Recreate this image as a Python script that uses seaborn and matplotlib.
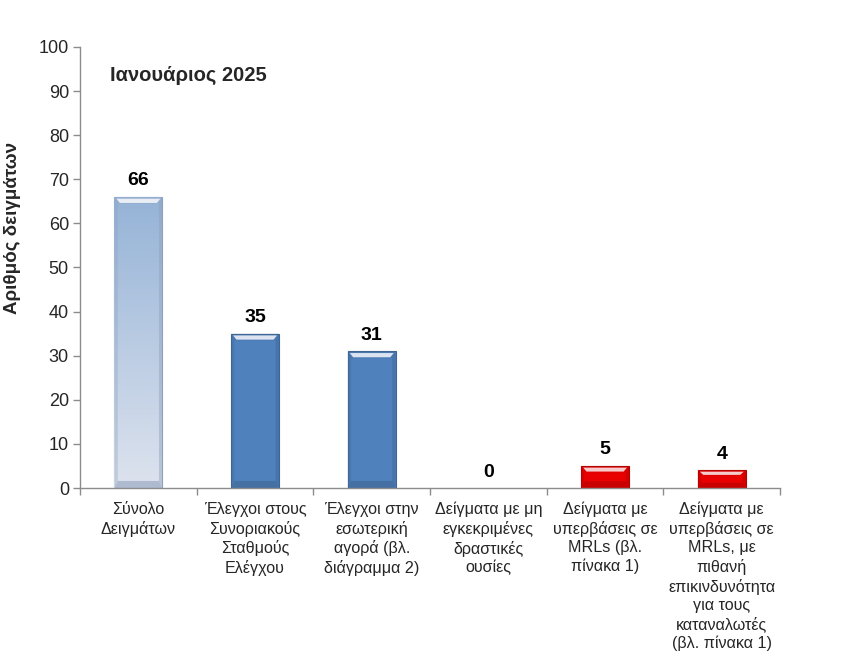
import matplotlib
matplotlib.use("Agg")
import matplotlib.pyplot as plt
import matplotlib.colors as mcolors
from matplotlib.patches import Polygon
import numpy as np
import pandas as pd
import seaborn as sns

categories = [
    "Σύνολο\nΔειγμάτων",
    "Έλεγχοι στους\nΣυνοριακούς\nΣταθμούς\nΕλέγχου",
    "Έλεγχοι στην\nεσωτερική\nαγορά (βλ.\nδιάγραμμα 2)",
    "Δείγματα με μη\nεγκεκριμένες\nδραστικές\nουσίες",
    "Δείγματα με\nυπερβάσεις σε\nMRLs (βλ.\nπίνακα 1)",
    "Δείγματα με\nυπερβάσεις σε\nMRLs, με\nπιθανή\nεπικινδυνότητα\nγια τους\nκαταναλωτές\n(βλ. πίνακα 1)",
]
values = [66, 35, 31, 0, 5, 4]
bar_colors = ["#A7BDE0", "#4F81BD", "#4F81BD", "#4F81BD", "#E80000", "#E80000"]
title_text = "Ιανουάριος 2025"
ylabel_text = "Αριθμός δειγμάτων"
yticks = list(range(0, 101, 10))

sns.set_style("white")
plt.rcParams["font.family"] = ["Liberation Sans", "DejaVu Sans"]

df = pd.DataFrame({"cat": categories, "val": values})

fig = plt.figure(figsize=(8.47, 6.6), dpi=100)
ax = fig.add_axes([0.0945, 0.2606, 0.8265, 0.6682])

sns.barplot(data=df, x="cat", y="val", hue="cat", palette=bar_colors,
            legend=False, width=0.41, ax=ax, saturation=1, linewidth=0)

ax.set_xlim(-0.5, len(categories) - 0.5)
ax.set_ylim(0, 100)
ax.set_yticks(yticks)
ax.tick_params(axis="y", labelsize=13, length=5, width=1, color="#8C8C8C",
               direction="out", left=True, pad=3)
ax.set_xticks(range(len(categories)))
ax.set_xticklabels(categories, fontsize=11.6, linespacing=1.28)
ax.tick_params(axis="x", which="major", length=0, pad=10)
ax.set_xticks(np.arange(-0.5, len(categories), 1.0), minor=True)
ax.tick_params(axis="x", which="minor", length=5, width=1, color="#8C8C8C",
               direction="out", bottom=True)
for lbl in ax.get_xticklabels():
    lbl.set_verticalalignment("top")

for side in ["top", "right"]:
    ax.spines[side].set_visible(False)
for side in ["left", "bottom"]:
    ax.spines[side].set_color("#8C8C8C")
    ax.spines[side].set_linewidth(1)

ax.set_xlabel("")
ax.set_ylabel(ylabel_text, fontsize=13.5, fontweight="bold", labelpad=8)
ax.yaxis.set_label_coords(-0.085, 0.59)

# bar styling: gradient on the first bar, bevel highlights on all
for i, patch in enumerate(ax.patches):
    x0, y0 = patch.get_x(), patch.get_y()
    w, h = patch.get_width(), patch.get_height()
    if h <= 0:
        continue
    base = np.array(mcolors.to_rgb(bar_colors[i]))
    if i == 0:
        top_c = np.array(mcolors.to_rgb("#95B3D7"))
        bot_c = np.array(mcolors.to_rgb("#DDE3EE"))
        t = np.linspace(0, 1, 256)[:, None]
        grad = top_c * (1 - t) + bot_c * t
        img = np.repeat(grad[:, None, :], 2, axis=1)
        im = ax.imshow(img, extent=[x0, x0 + w, y0, y0 + h], aspect="auto",
                       origin="upper", zorder=patch.get_zorder() + 0.1)
        im.set_clip_path(patch)
        dark = np.array(mcolors.to_rgb("#8FA0BC"))
    else:
        dark = base * 0.78
    bev_w = w * 0.07
    bev_h = min(1.6, h * 0.3)
    z = patch.get_zorder() + 0.2
    left = Polygon([[x0, y0], [x0 + bev_w, y0 + bev_h], [x0 + bev_w, y0 + h - bev_h],
                    [x0, y0 + h]], closed=True, facecolor=dark, alpha=0.35,
                   edgecolor="none", zorder=z)
    right = Polygon([[x0 + w, y0], [x0 + w - bev_w, y0 + bev_h],
                     [x0 + w - bev_w, y0 + h - bev_h], [x0 + w, y0 + h]],
                    closed=True, facecolor=dark, alpha=0.45, edgecolor="none", zorder=z)
    bottom = Polygon([[x0, y0], [x0 + w, y0], [x0 + w - bev_w, y0 + bev_h],
                      [x0 + bev_w, y0 + bev_h]], closed=True, facecolor=dark,
                     alpha=0.6, edgecolor="none", zorder=z)
    top_band = Polygon([[x0, y0 + h], [x0 + w, y0 + h], [x0 + w - bev_w, y0 + h - bev_h],
                        [x0 + bev_w, y0 + h - bev_h]], closed=True,
                       facecolor=dark, alpha=0.25, edgecolor="none", zorder=z)
    hl_top = y0 + h - bev_h * 0.25
    hl_bot = y0 + h - bev_h * 0.85
    hl = Polygon([[x0 + bev_w * 0.6, hl_top], [x0 + w - bev_w * 0.6, hl_top],
                  [x0 + w - bev_w * 1.6, hl_bot], [x0 + bev_w * 1.6, hl_bot]],
                 closed=True, facecolor="white", alpha=0.8, edgecolor="none",
                 zorder=z + 0.1)
    for p in (left, right, bottom, top_band, hl):
        ax.add_patch(p)
    patch.set_edgecolor(dark)
    patch.set_linewidth(0.8)

for i, v in enumerate(values):
    ax.text(i, v + 1.7, f"{v}", ha="center", va="bottom", fontsize=14,
            fontweight="bold", color="black")

ax.text(0.043, 0.935, title_text, transform=ax.transAxes, ha="left", va="center",
        fontsize=14.5, fontweight="bold")

fig.savefig("out.png", dpi=100)
